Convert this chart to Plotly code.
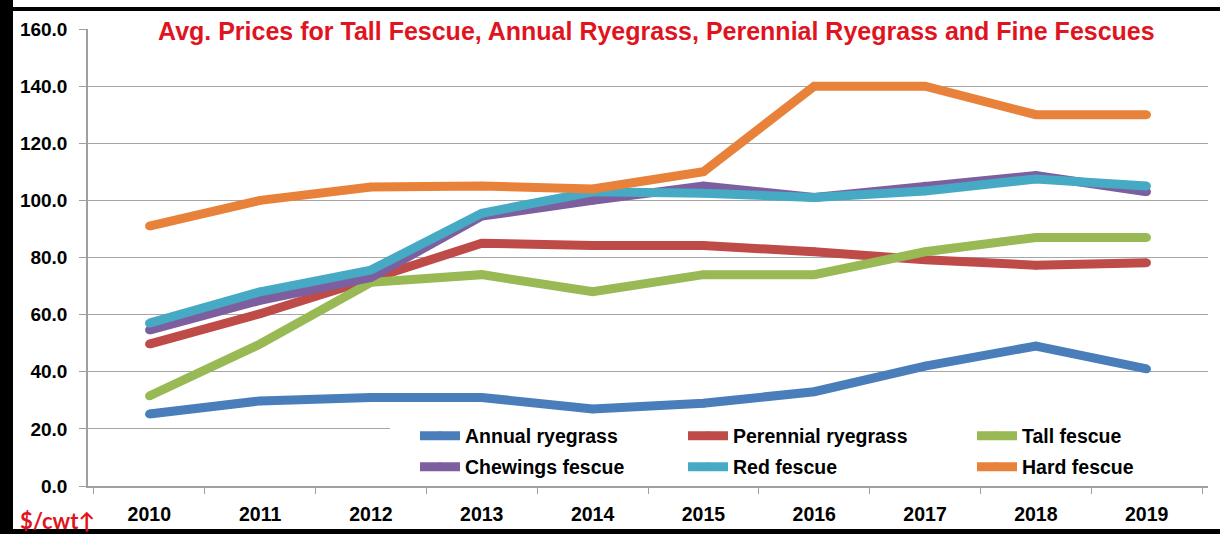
import plotly.graph_objects as go

years = ["2010", "2011", "2012", "2013", "2014", "2015", "2016", "2017", "2018", "2019"]
annual_ryegrass = [25.2, 29.8, 31.0, 31.0, 27.0, 29.0, 33.0, 42.0, 49.0, 41.0]
perennial_ryegrass = [49.7, 60.3, 72.5, 85.0, 84.2, 84.2, 82.0, 79.2, 77.3, 78.2]
tall_fescue = [31.5, 49.7, 71.3, 74.0, 68.0, 74.0, 74.0, 82.0, 87.0, 87.0]
chewings_fescue = [54.6, 65.0, 73.0, 94.5, 100.0, 105.0, 101.0, 105.0, 108.7, 103.0]
red_fescue = [57.0, 68.0, 75.6, 95.5, 103.0, 102.5, 101.0, 103.3, 107.5, 105.0]
hard_fescue = [91.0, 100.0, 104.7, 105.0, 104.0, 110.0, 140.0, 140.0, 130.0, 130.0]

series = [
    ("Annual ryegrass", annual_ryegrass, "#4A7EBB"),
    ("Perennial ryegrass", perennial_ryegrass, "#BE4B48"),
    ("Tall fescue", tall_fescue, "#98B954"),
    ("Chewings fescue", chewings_fescue, "#7D5FA0"),
    ("Red fescue", red_fescue, "#46AAC5"),
    ("Hard fescue", hard_fescue, "#E8823A"),
]

FONT = "Arial, Liberation Sans, sans-serif"
W, H = 1220, 534
L, R, T, B = 88, 12, 29, 48
pw, ph = W - L - R, H - T - B

def px(x):
    return (x - L) / pw

def py(y):
    return (H - B - y) / ph

# legend entry positions (left of text, row centre) in pixels
legend_pos = [(467, 436), (735, 436), (1024, 436), (467, 467), (735, 467), (1024, 467)]

fig = go.Figure()
legend_layouts = {}
for i, (name, vals, color) in enumerate(series):
    lname = "legend" if i == 0 else f"legend{i + 1}"
    fig.add_trace(go.Scatter(
        x=years, y=vals, name=name, mode="lines+markers",
        line=dict(color=color, width=9),
        marker=dict(color=color, size=8.5, line=dict(width=0)),
        legend=lname,
    ))
    tx, ty = legend_pos[i]
    legend_layouts[lname] = dict(
        x=px(tx - 52), y=py(ty), xanchor="left", yanchor="middle",
        bgcolor="rgba(0,0,0,0)", itemwidth=40,
        font=dict(family=FONT, size=19.5, color="black", weight="bold"),
    )

shapes = [
    # white area behind the legend hiding the gridline
    dict(type="rect", xref="paper", yref="paper", x0=px(390), x1=px(1208), y0=py(418), y1=py(483),
         fillcolor="white", line=dict(width=0), layer="above"),
    # keep the right margin plain white
    dict(type="rect", xref="paper", yref="paper", x0=px(1210), x1=px(W + 2), y0=py(12), y1=py(528),
         fillcolor="white", line=dict(width=0), layer="above"),
    dict(type="rect", xref="paper", yref="paper", x0=px(0), x1=px(13), y0=py(0), y1=py(H),
         fillcolor="black", line=dict(width=0), layer="above"),
    dict(type="rect", xref="paper", yref="paper", x0=px(0), x1=px(W), y0=py(7), y1=py(11),
         fillcolor="black", line=dict(width=0), layer="above"),
    dict(type="rect", xref="paper", yref="paper", x0=px(0), x1=px(W), y0=py(529), y1=py(H),
         fillcolor="black", line=dict(width=0), layer="above"),
]

fig.update_layout(
    width=W, height=H,
    margin=dict(l=L, r=R, t=T, b=B, autoexpand=False),
    paper_bgcolor="white", plot_bgcolor="white",
    font=dict(family=FONT, color="black"),
    shapes=shapes,
    showlegend=True,
    annotations=[
        dict(text="Avg. Prices for Tall Fescue, Annual Ryegrass, Perennial Ryegrass and Fine Fescues",
             xref="paper", yref="paper", x=px(656), y=py(31), xanchor="center", yanchor="middle",
             showarrow=False, font=dict(family=FONT, size=25, color="#E0141E", weight="bold")),
        dict(text="$/cwt↑", xref="paper", yref="paper", x=px(18), y=py(520), xanchor="left",
             yanchor="middle", showarrow=False,
             font=dict(family="Lato, Open Sans, sans-serif", size=22, color="#E0141E", weight="bold")),
    ],
    **legend_layouts,
)

fig.update_xaxes(
    type="category", showgrid=False, showline=True, linecolor="#A0A0A0", linewidth=1.5,
    ticks="outside", tickson="boundaries", ticklen=6, tickcolor="#A0A0A0",
    ticklabelstandoff=10, automargin=False,
    tickfont=dict(family=FONT, size=19.5, color="black", weight="bold"),
)
fig.update_yaxes(
    range=[0, 160], dtick=20, tickformat=".1f", showgrid=True, gridcolor="#A6A6A6", gridwidth=1,
    showline=True, linecolor="#A0A0A0", linewidth=1.5, ticks="outside", ticklen=7,
    tickcolor="#A0A0A0", zeroline=False, ticklabelstandoff=8, automargin=False,
    tickfont=dict(family=FONT, size=19, color="black", weight="bold"),
)

fig.write_html(
    "out.html", config={"displayModeBar": False},
    post_script=("document.body.style.margin='0';document.body.style.padding='0';"
                 "document.body.style.overflow='hidden';"
                 "document.documentElement.style.overflow='hidden';"),
)
